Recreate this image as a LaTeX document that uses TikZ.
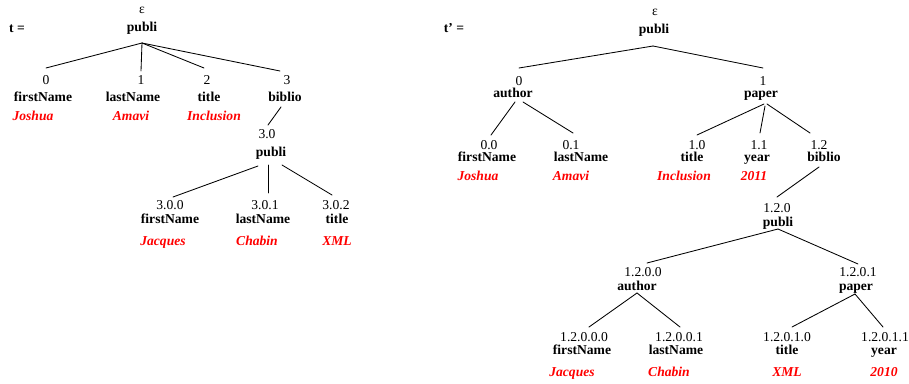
\documentclass[tikz,border=0pt]{standalone}
\usepackage{fontspec}
\setmainfont{Liberation Serif}
\usetikzlibrary{calc}
\definecolor{valred}{RGB}{255,0,0}
\begin{document}
\begin{tikzpicture}[x=1pt,y=-1pt,
  every node/.style={inner sep=0pt,outer sep=0pt,font=\fontsize{13.6}{16}\selectfont},
  num/.style={text height=9.2pt,text depth=0pt},
  lab/.style={font=\fontsize{13.6}{16}\selectfont\bfseries,text height=9.2pt,text depth=0pt},
  val/.style={font=\fontsize{13.6}{16}\selectfont\bfseries\itshape,text=valred,text height=9.2pt,text depth=0pt},
  edge/.style={line width=0.85pt,line cap=round}]
\useasboundingbox (0,0) rectangle (909,383);

% ---------------- tree t ----------------
\node[lab] (Lt) at (17,28) {t =};
\node[num] (Leps) at (142,9) {ε};
\node[lab] (Lp) at (142,27) {publi};

\node[num] (Lk0) at (46,80) {0};
\node[lab] (Lf0) at (43,97) {firstName};
\node[val] (Lv0) at (33,116) {Joshua};

\node[num] (Lk1) at (141,80) {1};
\node[lab] (Lf1) at (133,97) {lastName};
\node[val] (Lv1) at (131,116) {Amavi};

\node[num] (Lk2) at (207,80) {2};
\node[lab] (Lf2) at (209,97) {title};
\node[val] (Lv2) at (214,116) {Inclusion};

\node[num] (Lk3) at (287,80) {3};
\node[lab] (Lf3) at (285,97) {biblio};

\node[num] (Lk30) at (267,134) {3.0};
\node[lab] (Lf30) at (271,152) {publi};

\node[num] (Lk300) at (170,205) {3.0.0};
\node[lab] (Lf300) at (170,218.5) {firstName};
\node[val] (Lv300) at (163,241) {Jacques};

\node[num] (Lk301) at (265,205) {3.0.1};
\node[lab] (Lf301) at (263,218.5) {lastName};
\node[val] (Lv301) at (257,241) {Chabin};

\node[num] (Lk302) at (336,205) {3.0.2};
\node[lab] (Lf302) at (337,218.5) {title};
\node[val] (Lv302) at (337,241) {XML};

\draw[edge] ($(Lp)+(0,16)$) -- ($(Lk0)+(0,-12)$);
\draw[edge] ($(Lp)+(0,16)$) -- ($(Lk1)+(0,-9)$);
\draw[edge] ($(Lp)+(0,16)$) -- ($(Lk2)+(-3,-12)$);
\draw[edge] ($(Lp)+(0,16)$) -- ($(Lk3)+(-7,-9)$);
\draw[edge] ($(Lf3)+(-4,10)$) -- ($(Lk30)+(1,-9)$);
\draw[edge] ($(Lf30)+(-13,14)$) -- ($(Lk300)+(3,-8)$);
\draw[edge] ($(Lf30)+(-3,13)$) -- ($(Lk301)+(3,-12)$);
\draw[edge] ($(Lf30)+(11,13)$) -- ($(Lk302)+(-4,-10)$);

% ---------------- tree t' ----------------
\node[lab] (Rt) at (454,28) {t’ =};
\node[num] (Reps) at (655,11) {ε};
\node[lab] (Rp) at (654,29) {publi};

\node[num] (Rk0) at (519,81) {0};
\node[lab] (Ra0) at (513,93) {author};
\node[num] (Rk1) at (763,81) {1};
\node[lab] (Rp1) at (761,93) {paper};

\node[num] (Rk00) at (489,145) {0.0};
\node[lab] (Rf00) at (487,157) {firstName};
\node[val] (Rv00) at (478,176) {Joshua};

\node[num] (Rk01) at (571,145) {0.1};
\node[lab] (Rf01) at (581,157) {lastName};
\node[val] (Rv01) at (571,176) {Amavi};

\node[num] (Rk10) at (697,145) {1.0};
\node[lab] (Rf10) at (692,157) {title};
\node[val] (Rv10) at (684,176) {Inclusion};

\node[num] (Rk11) at (759,145) {1.1};
\node[lab] (Rf11) at (757,157) {year};
\node[val] (Rv11) at (754,176) {2011};

\node[num] (Rk12) at (819,145) {1.2};
\node[lab] (Rb12) at (824,157) {biblio};

\node[num] (Rk120) at (777,208) {1.2.0};
\node[lab] (Rp120) at (778,222) {publi};

\node[num] (Rk1200) at (643,272) {1.2.0.0};
\node[lab] (Ra1200) at (637,286) {author};
\node[num] (Rk1201) at (858,272) {1.2.0.1};
\node[lab] (Rp1201) at (856,286) {paper};

\node[num] (Rk12000) at (584,337) {1.2.0.0.0};
\node[lab] (Rf12000) at (582,350) {firstName};
\node[val] (Rv12000) at (572,372) {Jacques};

\node[num] (Rk12001) at (679,337) {1.2.0.0.1};
\node[lab] (Rf12001) at (676,350) {lastName};
\node[val] (Rv12001) at (669,372) {Chabin};

\node[num] (Rk12010) at (787,337) {1.2.0.1.0};
\node[lab] (Rf12010) at (787,350) {title};
\node[val] (Rv12010) at (787,372) {XML};

\node[num] (Rk12011) at (885,337) {1.2.0.1.1};
\node[lab] (Rf12011) at (884,350) {year};
\node[val] (Rv12011) at (884,372) {2010};

\draw[edge] ($(Rp)+(-1,17)$) -- ($(Rk0)+(0,-13)$);
\draw[edge] ($(Rp)+(-1,17)$) -- ($(Rk1)+(0,-13)$);
\draw[edge] ($(Ra0)+(2,9)$) -- ($(Rk00)+(2,-10)$);
\draw[edge] ($(Ra0)+(10,9)$) -- ($(Rk01)+(2,-12)$);
\draw[edge] ($(Rp1)+(3,11)$) -- ($(Rk10)+(0,-10)$);
\draw[edge] ($(Rp1)+(4,13)$) -- ($(Rk11)+(1,-12)$);
\draw[edge] ($(Rp1)+(6,11)$) -- ($(Rk12)+(-9,-12)$);
\draw[edge] ($(Rb12)+(-5,10)$) -- ($(Rk120)+(0,-11)$);
\draw[edge] ($(Rp120)+(0,7)$) -- ($(Rk1200)+(4,-9)$);
\draw[edge] ($(Rp120)+(0,7)$) -- ($(Rk1201)+(0,-8)$);
\draw[edge] ($(Ra1200)+(0,7)$) -- ($(Rk12000)+(5,-10)$);
\draw[edge] ($(Ra1200)+(0,7)$) -- ($(Rk12001)+(1,-10)$);
\draw[edge] ($(Rp1201)+(-1,8)$) -- ($(Rk12010)+(5,-10)$);
\draw[edge] ($(Rp1201)+(-1,8)$) -- ($(Rk12011)+(-2,-10)$);
\end{tikzpicture}
\end{document}
